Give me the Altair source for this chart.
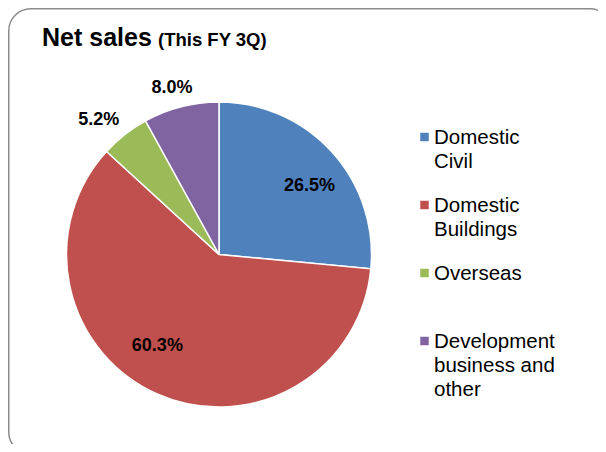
import altair as alt
import pandas as pd

categories = ["Domestic Civil", "Domestic Buildings", "Overseas", "Development business and other"]
legend_labels = ["Domestic\nCivil", "Domestic\nBuildings", "Overseas", "Development\nbusiness and\nother"]
shares = [26.5, 60.3, 5.2, 8.0]
colors = ["#4F81BD", "#C0504D", "#9BBB59", "#8064A2"]
title_main = "Net sales"
title_sub = "(This FY 3Q)"

df = pd.DataFrame({
    "category": categories,
    "legend": legend_labels,
    "share": shares,
    "order": list(range(len(categories))),
})

FONT = "Liberation Sans"
CX, CY, R = 211, 246.5, 152.5

base = alt.Chart(df).transform_calculate(
    label="format(datum.share, '.1f') + '%'"
)

color = alt.Color("category:N", scale=alt.Scale(domain=categories, range=colors), legend=None)
theta = alt.Theta("share:Q", stack=True)
order = alt.Order("order:Q", sort="ascending")

pie = base.mark_arc(outerRadius=R, stroke="white", strokeWidth=1.5).encode(
    theta=theta, color=color, order=order,
    x=alt.value(CX), y=alt.value(CY),
)

# per-slice label placement (radius, dx, dy)
placements = {
    "Domestic Civil": (113, 7, 8),
    "Domestic Buildings": (110, -17, -9),
    "Overseas": (180, -9, 7),
    "Development business and other": (173, -4, 1),
}
label_layers = []
for cat, (rad, dx, dy) in placements.items():
    label_layers.append(
        base.mark_text(radius=rad, dx=dx, dy=dy, font=FONT, fontSize=18,
                       fontWeight="bold", color="black", baseline="middle", align="center").encode(
            theta=theta, order=order,
            x=alt.value(CX), y=alt.value(CY),
            text=alt.condition(f"datum.category == '{cat}'", "label:N", alt.value("")),
        )
    )

ypos = alt.Y("category:N", scale=alt.Scale(domain=categories, range=[129, 333], padding=0), axis=None)
leg_sym = base.mark_square(size=72, opacity=1).encode(
    y=ypos, x=alt.value(416.5), color=color,
)
leg_txt = base.mark_text(align="left", baseline="alphabetic", lineBreak="\n", lineHeight=24,
                         font=FONT, fontSize=20.5, dy=7, color="black").encode(
    y=ypos, x=alt.value(426), text="legend:N",
)

one = alt.Data(values=[{"a": 1}])
t1 = alt.Chart(one).mark_text(text=title_main, font=FONT, fontSize=25, fontWeight="bold",
                              align="left", baseline="alphabetic", color="black").encode(
    x=alt.value(34), y=alt.value(38))
t2 = alt.Chart(one).mark_text(text=title_sub, font=FONT, fontSize=18.5, fontWeight="bold",
                              align="left", baseline="alphabetic", color="black").encode(
    x=alt.value(150), y=alt.value(38))
border = alt.Chart(one).mark_rect(filled=False, stroke="#8c8c8c", strokeWidth=1.5, cornerRadius=22).encode(
    x=alt.value(0.75), x2=alt.value(604), y=alt.value(0.75), y2=alt.value(446))

chart = alt.layer(border, pie, *label_layers, leg_sym, leg_txt, t1, t2).resolve_scale(
    y="independent"
).properties(
    width=590, height=436, autosize=alt.AutoSizeParams(type="none"), padding=0,
    background="white",
).configure_view(stroke=None)

chart.save("out.html", embed_options={"renderer": "svg", "actions": False})
